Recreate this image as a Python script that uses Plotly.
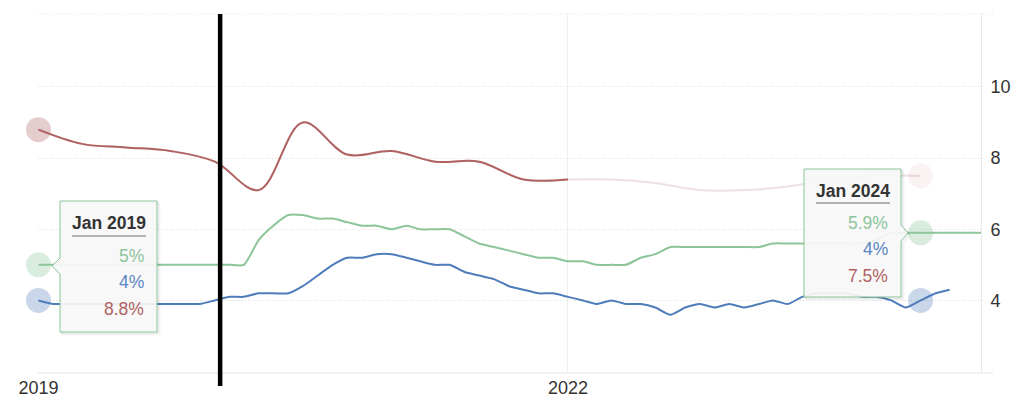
import plotly.graph_objects as go

# ---------------- data ----------------
month_dates = [f"{2019 + i // 12}-{i % 12 + 1:02d}-01" for i in range(66)]  # Jan 2019 .. Jun 2024

green_values = [
    5.0, 5.0, 5.0, 5.0, 5.0, 5.0, 5.0, 5.0, 5.0, 5.0, 5.0, 5.0,   # 2019
    5.0, 5.0, 5.0, 5.7, 6.1, 6.4, 6.4, 6.3, 6.3, 6.2, 6.1, 6.1,   # 2020
    6.0, 6.1, 6.0, 6.0, 6.0, 5.8, 5.6, 5.5, 5.4, 5.3, 5.2, 5.2,   # 2021
    5.1, 5.1, 5.0, 5.0, 5.0, 5.2, 5.3, 5.5, 5.5, 5.5, 5.5, 5.5,   # 2022
    5.5, 5.5, 5.6, 5.6, 5.6, 5.6, 5.6, 5.6, 5.6, 5.7, 5.9, 5.9,   # 2023
    5.9, 5.9, 5.9, 5.9, 5.9, 5.9,                                 # 2024
]

blue_values = [
    4.0, 3.9, 3.9, 3.9, 3.9, 3.9, 3.9, 3.9, 3.9, 3.9, 3.9, 3.9,   # 2019
    4.0, 4.1, 4.1, 4.2, 4.2, 4.2, 4.4, 4.7, 5.0, 5.2, 5.2, 5.3,   # 2020
    5.3, 5.2, 5.1, 5.0, 5.0, 4.8, 4.7, 4.6, 4.4, 4.3, 4.2, 4.2,   # 2021
    4.1, 4.0, 3.9, 4.0, 3.9, 3.9, 3.8, 3.6, 3.8, 3.9, 3.8, 3.9,   # 2022
    3.8, 3.9, 4.0, 3.9, 4.1, 4.2, 4.2, 4.2, 4.1, 4.1, 4.0, 3.8,   # 2023
    4.0, 4.2, 4.3,                                                # 2024
]

red_dates = month_dates[0:61:3]            # quarterly, Jan 2019 .. Jan 2024
red_values = [
    8.8, 8.4, 8.3, 8.2,
    7.9, 7.1, 9.0, 8.1,
    8.2, 7.9, 7.9, 7.4,
    7.4, 7.4, 7.3, 7.1,
    7.1, 7.2, 7.4, 7.5,
    7.5,
]
red_solid_count = 13                        # solid up to Jan 2022, faded afterwards

marker_line_date = "2020-01-12"
tooltip_months = [0, 60]                    # Jan 2019, Jan 2024
y_ticks = [4, 6, 8, 10]
x_range = ["2018-12-31", "2024-05-05"]
y_range = [1.96, 12.05]

GREEN = "#8cc59a"
BLUE = "#4f7cba"
RED = "#b06262"
FONT = "Liberation Sans, Arial, sans-serif"

# ---------------- geometry helpers (pixel -> paper) ----------------
L, T, W, H = 38, 14, 943, 359


def px(x):
    return (x - L) / W


def py(y):
    return (T + H - y) / H


fig = go.Figure()


def red_at(month_idx):
    return red_values[month_idx // 3]


# halos (behind lines)
fig.add_trace(go.Scatter(
    x=[month_dates[m] for m in tooltip_months], y=[green_values[m] for m in tooltip_months],
    mode="markers", marker=dict(size=25, color=GREEN, opacity=0.33, line=dict(width=0)),
    cliponaxis=False, hoverinfo="skip", showlegend=False))
fig.add_trace(go.Scatter(
    x=[month_dates[m] for m in tooltip_months], y=[blue_values[m] for m in tooltip_months],
    mode="markers", marker=dict(size=25, color=BLUE, opacity=0.3, line=dict(width=0)),
    cliponaxis=False, hoverinfo="skip", showlegend=False))
fig.add_trace(go.Scatter(
    x=[month_dates[m] for m in tooltip_months], y=[red_at(m) for m in tooltip_months],
    mode="markers", marker=dict(size=25, color=["rgba(176,98,98,0.32)", "rgba(176,98,98,0.08)"],
                                line=dict(width=0)),
    cliponaxis=False, hoverinfo="skip", showlegend=False))

# lines
fig.add_trace(go.Scatter(
    x=month_dates[:len(green_values)], y=green_values, mode="lines", name="Green",
    line=dict(color=GREEN, width=2, shape="spline", smoothing=0.6), showlegend=False))
fig.add_trace(go.Scatter(
    x=month_dates[:len(blue_values)], y=blue_values, mode="lines", name="Blue",
    line=dict(color=BLUE, width=2, shape="spline", smoothing=0.6), showlegend=False))
fig.add_trace(go.Scatter(
    x=red_dates, y=red_values, mode="lines", name="Red (faded)",
    line=dict(color="rgba(176,98,98,0.2)", width=2, shape="spline", smoothing=1.0), showlegend=False))
fig.add_trace(go.Scatter(
    x=red_dates[:red_solid_count], y=red_values[:red_solid_count], mode="lines", name="Red",
    line=dict(color=RED, width=2, shape="spline", smoothing=1.0), showlegend=False))

shapes = []
annotations = []

# top gridline and bottom axis line extending slightly right
shapes.append(dict(type="line", xref="paper", yref="paper", x0=0, x1=px(993), y0=1, y1=1,
                   line=dict(color="#e3e3e3", width=1, dash="1px,2px"), layer="below"))
shapes.append(dict(type="line", xref="paper", yref="paper", x0=0, x1=px(993), y0=0, y1=0,
                   line=dict(color="#e3e3e3", width=1), layer="below"))

# black vertical marker line
shapes.append(dict(type="line", xref="x", yref="paper", x0=marker_line_date, x1=marker_line_date,
                   y0=py(386), y1=1, line=dict(color="black", width=4.5), layer="above"))


def tooltip(box, notch_side, notch_y, header_cx, header_y, line_y, val_right, val_ys, month_idx):
    x0, y0, x1, y1 = box
    if notch_side == "left":
        pts = [(x0, y0), (x1, y0), (x1, y1), (x0, y1), (x0, notch_y + 8), (x0 - 8, notch_y), (x0, notch_y - 8)]
    else:
        pts = [(x0, y0), (x1, y0), (x1, notch_y - 8), (x1 + 7, notch_y), (x1, notch_y + 8), (x1, y1), (x0, y1)]

    def path(offset):
        return "M " + " L ".join(f"{px(a + offset):.5f},{py(b + offset):.5f}" for a, b in pts) + " Z"

    for off, alpha in [(3, 0.04), (2, 0.07), (1, 0.1)]:
        shapes.append(dict(type="path", xref="paper", yref="paper", path=path(off),
                           line=dict(color=f"rgba(0,0,0,{alpha})", width=1), fillcolor="rgba(0,0,0,0)",
                           layer="above"))
    shapes.append(dict(type="path", xref="paper", yref="paper", path=path(0),
                       line=dict(color=GREEN, width=1), fillcolor="rgba(247,247,247,0.92)", layer="above"))
    shapes.append(dict(type="line", xref="paper", yref="paper", x0=px(header_cx - 37), x1=px(header_cx + 37),
                       y0=py(line_y), y1=py(line_y), line=dict(color="#9a9a9a", width=1.3), layer="above"))
    year = month_dates[month_idx][:4]
    annotations.append(dict(xref="paper", yref="paper", x=px(header_cx), y=py(header_y),
                            text=f"<b>Jan {year}</b>", showarrow=False, xanchor="center", yanchor="middle",
                            font=dict(family=FONT, size=17.5, color="#333333")))
    vals = [(green_values[month_idx], GREEN), (blue_values[month_idx], "#5b86c4"), (red_at(month_idx), RED)]
    for (v, c), yy in zip(vals, val_ys):
        annotations.append(dict(xref="paper", yref="paper", x=px(val_right), y=py(yy),
                                text=f"{v:g}%", showarrow=False, xanchor="right", yanchor="middle",
                                font=dict(family=FONT, size=17.5, color=c)))


tooltip((60, 201, 157, 332), "left", 266, 109, 223, 236, 146, [256, 282, 309], tooltip_months[0])
tooltip((804, 169, 901, 297), "right", 233, 853, 191, 203, 890, [223, 249, 276], tooltip_months[1])

fig.update_layout(
    width=1024, height=418,
    margin=dict(l=L, r=1024 - L - W, t=T, b=418 - T - H),
    paper_bgcolor="white", plot_bgcolor="white",
    shapes=shapes, annotations=annotations,
    showlegend=False,
    xaxis=dict(
        type="date", range=x_range, tick0="2019-01-01", dtick="M36", tickformat="%Y",
        showgrid=True, gridcolor="#eeeeee", gridwidth=1,
        showline=False, zeroline=False, ticks="", ticklabelstandoff=2,
        tickfont=dict(family=FONT, size=18, color="#333333"),
    ),
    yaxis=dict(
        range=y_range, side="right", tickvals=y_ticks, ticktext=[str(v) for v in y_ticks],
        showgrid=True, gridcolor="#dedede", griddash="1px,2px", gridwidth=1,
        showline=True, linecolor="#e8e8e8", linewidth=1, zeroline=False, ticks="",
        ticklabelstandoff=5,
        tickfont=dict(family=FONT, size=18, color="#333333"),
    ),
)

fig.write_html("out.html", config={"displayModeBar": False},
               post_script="document.body.style.margin='0';document.body.style.overflow='hidden';")
